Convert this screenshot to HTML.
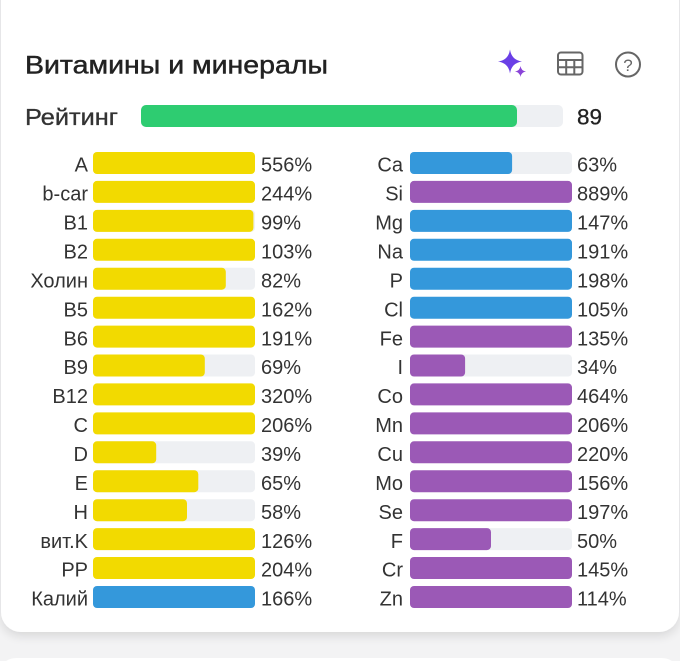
<!DOCTYPE html>
<html><head><meta charset="utf-8"><style>
html,body{margin:0;padding:0;background:#f3f3f4;width:680px;height:661px;overflow:hidden;}
svg{display:block;}
text{font-family:"Liberation Sans","DejaVu Sans",sans-serif;}
</style></head><body>
<svg width="680" height="661" viewBox="0 0 680 661" xmlns="http://www.w3.org/2000/svg">
<defs>
<filter id="sh" x="-10%" y="-10%" width="120%" height="120%">
<feGaussianBlur in="SourceAlpha" stdDeviation="5"/>
<feOffset dy="4"/>
<feComponentTransfer><feFuncA type="linear" slope="0.12"/></feComponentTransfer>
<feMerge><feMergeNode/><feMergeNode in="SourceGraphic"/></feMerge>
</filter>
</defs>
<rect x="0" y="0" width="680" height="661" fill="#f3f3f4"/>
<rect x="1" y="-30" width="678" height="662" rx="20" fill="#fff" filter="url(#sh)"/>
<path d="M1,661 L1,674 Q1,658 17,658 L661,658 Q677,658 677,674 L677,661 Z" fill="#fff"/>

<!-- title -->
<text x="25" y="73.5" font-size="25" fill="#222" stroke="#222" stroke-width="0.45" textLength="303" lengthAdjust="spacingAndGlyphs">Витамины и минералы</text>

<!-- icons -->
<path d="M510,49.5 Q511.5,60 522,61.5 Q511.5,63 510,73.5 Q508.5,63 498,61.5 Q508.5,60 510,49.5Z" fill="#6a3fe6"/>
<path d="M520.5,66 Q521.2,70.8 526,71.5 Q521.2,72.2 520.5,77 Q519.8,72.2 515,71.5 Q519.8,70.8 520.5,66Z" fill="#8a44d8"/>
<g fill="none" stroke="#666" stroke-width="2">
<rect x="558" y="52.5" width="24.5" height="22" rx="3"/>
<line x1="558" y1="60" x2="582.5" y2="60"/>
<line x1="558" y1="67.3" x2="582.5" y2="67.3"/>
<line x1="566.2" y1="60" x2="566.2" y2="74.5"/>
<line x1="574.3" y1="60" x2="574.3" y2="74.5"/>
<circle cx="628" cy="64.5" r="12"/>
</g>
<text x="628" y="71" font-size="17" fill="#666" text-anchor="middle">?</text>

<!-- rating -->
<text x="25" y="125" font-size="23" fill="#333" stroke="#333" stroke-width="0.35" textLength="93" lengthAdjust="spacingAndGlyphs">Рейтинг</text>
<rect x="141" y="105" width="422" height="22" rx="5" fill="#eef0f3"/>
<rect x="141" y="105" width="376" height="22" rx="5" fill="#2ecc71"/>
<text x="577" y="124.5" font-size="22" fill="#222" stroke="#222" stroke-width="0.3" textLength="25" lengthAdjust="spacingAndGlyphs">89</text>

<g font-size="20" fill="#333">
<!-- left column -->
<g>
<rect x="93" y="152" width="162" height="22" rx="4" fill="#f2da00"/>
<text x="88" y="171.7" text-anchor="end">A</text><text x="261" y="171.7">556%</text>

<rect x="93" y="180.9" width="162" height="22" rx="4" fill="#f2da00"/>
<text x="88" y="200.6" text-anchor="end">b-car</text><text x="261" y="200.6">244%</text>

<rect x="93" y="209.9" width="162" height="22" rx="4" fill="#eef0f3"/>
<rect x="93" y="209.9" width="160.4" height="22" rx="4" fill="#f2da00"/>
<text x="88" y="229.6" text-anchor="end">B1</text><text x="261" y="229.6">99%</text>

<rect x="93" y="238.8" width="162" height="22" rx="4" fill="#f2da00"/>
<text x="88" y="258.5" text-anchor="end">B2</text><text x="261" y="258.5">103%</text>

<rect x="93" y="267.7" width="162" height="22" rx="4" fill="#eef0f3"/>
<rect x="93" y="267.7" width="132.8" height="22" rx="4" fill="#f2da00"/>
<text x="88" y="287.4" text-anchor="end">Холин</text><text x="261" y="287.4">82%</text>

<rect x="93" y="296.7" width="162" height="22" rx="4" fill="#f2da00"/>
<text x="88" y="316.4" text-anchor="end">B5</text><text x="261" y="316.4">162%</text>

<rect x="93" y="325.6" width="162" height="22" rx="4" fill="#f2da00"/>
<text x="88" y="345.3" text-anchor="end">B6</text><text x="261" y="345.3">191%</text>

<rect x="93" y="354.5" width="162" height="22" rx="4" fill="#eef0f3"/>
<rect x="93" y="354.5" width="111.8" height="22" rx="4" fill="#f2da00"/>
<text x="88" y="374.2" text-anchor="end">B9</text><text x="261" y="374.2">69%</text>

<rect x="93" y="383.4" width="162" height="22" rx="4" fill="#f2da00"/>
<text x="88" y="403.1" text-anchor="end">B12</text><text x="261" y="403.1">320%</text>

<rect x="93" y="412.4" width="162" height="22" rx="4" fill="#f2da00"/>
<text x="88" y="432.1" text-anchor="end">C</text><text x="261" y="432.1">206%</text>

<rect x="93" y="441.3" width="162" height="22" rx="4" fill="#eef0f3"/>
<rect x="93" y="441.3" width="63.2" height="22" rx="4" fill="#f2da00"/>
<text x="88" y="461" text-anchor="end">D</text><text x="261" y="461">39%</text>

<rect x="93" y="470.2" width="162" height="22" rx="4" fill="#eef0f3"/>
<rect x="93" y="470.2" width="105.3" height="22" rx="4" fill="#f2da00"/>
<text x="88" y="489.9" text-anchor="end">E</text><text x="261" y="489.9">65%</text>

<rect x="93" y="499.2" width="162" height="22" rx="4" fill="#eef0f3"/>
<rect x="93" y="499.2" width="94" height="22" rx="4" fill="#f2da00"/>
<text x="88" y="518.9" text-anchor="end">H</text><text x="261" y="518.9">58%</text>

<rect x="93" y="528.1" width="162" height="22" rx="4" fill="#f2da00"/>
<text x="88" y="547.8" text-anchor="end">вит.K</text><text x="261" y="547.8">126%</text>

<rect x="93" y="557" width="162" height="22" rx="4" fill="#f2da00"/>
<text x="88" y="576.7" text-anchor="end">PP</text><text x="261" y="576.7">204%</text>

<rect x="93" y="586" width="162" height="22" rx="4" fill="#3498db"/>
<text x="88" y="605.7" text-anchor="end">Калий</text><text x="261" y="605.7">166%</text>
</g>

<!-- right column -->
<g>
<rect x="410" y="152" width="162" height="22" rx="4" fill="#eef0f3"/>
<rect x="410" y="152" width="102.1" height="22" rx="4" fill="#3498db"/>
<text x="403" y="171.7" text-anchor="end">Ca</text><text x="577" y="171.7">63%</text>

<rect x="410" y="180.9" width="162" height="22" rx="4" fill="#9b59b6"/>
<text x="403" y="200.6" text-anchor="end">Si</text><text x="577" y="200.6">889%</text>

<rect x="410" y="209.9" width="162" height="22" rx="4" fill="#3498db"/>
<text x="403" y="229.6" text-anchor="end">Mg</text><text x="577" y="229.6">147%</text>

<rect x="410" y="238.8" width="162" height="22" rx="4" fill="#3498db"/>
<text x="403" y="258.5" text-anchor="end">Na</text><text x="577" y="258.5">191%</text>

<rect x="410" y="267.7" width="162" height="22" rx="4" fill="#3498db"/>
<text x="403" y="287.4" text-anchor="end">P</text><text x="577" y="287.4">198%</text>

<rect x="410" y="296.7" width="162" height="22" rx="4" fill="#3498db"/>
<text x="403" y="316.4" text-anchor="end">Cl</text><text x="577" y="316.4">105%</text>

<rect x="410" y="325.6" width="162" height="22" rx="4" fill="#9b59b6"/>
<text x="403" y="345.3" text-anchor="end">Fe</text><text x="577" y="345.3">135%</text>

<rect x="410" y="354.5" width="162" height="22" rx="4" fill="#eef0f3"/>
<rect x="410" y="354.5" width="55.1" height="22" rx="4" fill="#9b59b6"/>
<text x="403" y="374.2" text-anchor="end">I</text><text x="577" y="374.2">34%</text>

<rect x="410" y="383.4" width="162" height="22" rx="4" fill="#9b59b6"/>
<text x="403" y="403.1" text-anchor="end">Co</text><text x="577" y="403.1">464%</text>

<rect x="410" y="412.4" width="162" height="22" rx="4" fill="#9b59b6"/>
<text x="403" y="432.1" text-anchor="end">Mn</text><text x="577" y="432.1">206%</text>

<rect x="410" y="441.3" width="162" height="22" rx="4" fill="#9b59b6"/>
<text x="403" y="461" text-anchor="end">Cu</text><text x="577" y="461">220%</text>

<rect x="410" y="470.2" width="162" height="22" rx="4" fill="#9b59b6"/>
<text x="403" y="489.9" text-anchor="end">Mo</text><text x="577" y="489.9">156%</text>

<rect x="410" y="499.2" width="162" height="22" rx="4" fill="#9b59b6"/>
<text x="403" y="518.9" text-anchor="end">Se</text><text x="577" y="518.9">197%</text>

<rect x="410" y="528.1" width="162" height="22" rx="4" fill="#eef0f3"/>
<rect x="410" y="528.1" width="81" height="22" rx="4" fill="#9b59b6"/>
<text x="403" y="547.8" text-anchor="end">F</text><text x="577" y="547.8">50%</text>

<rect x="410" y="557" width="162" height="22" rx="4" fill="#9b59b6"/>
<text x="403" y="576.7" text-anchor="end">Cr</text><text x="577" y="576.7">145%</text>

<rect x="410" y="586" width="162" height="22" rx="4" fill="#9b59b6"/>
<text x="403" y="605.7" text-anchor="end">Zn</text><text x="577" y="605.7">114%</text>
</g>
</g>
</svg>
</body></html>
